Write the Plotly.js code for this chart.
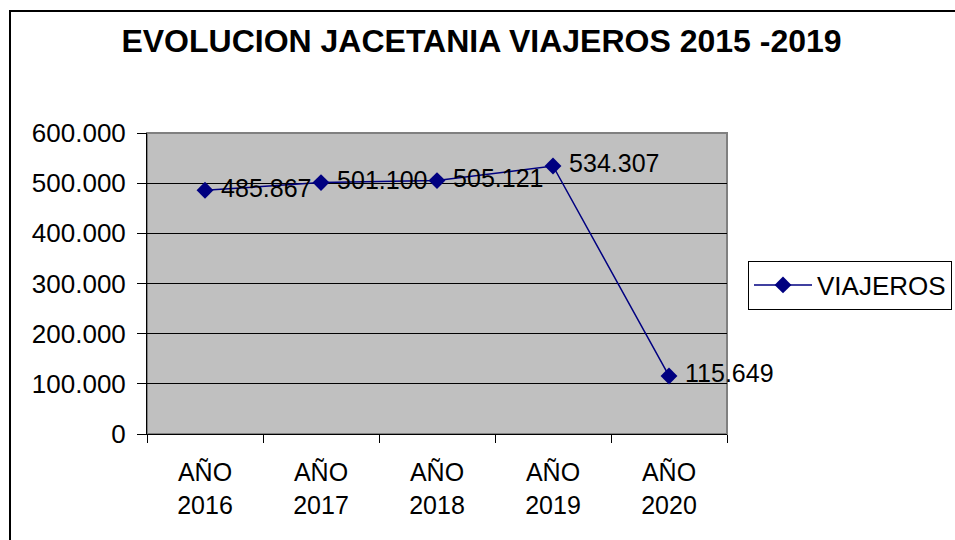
<!DOCTYPE html>
<html>
<head>
<meta charset="utf-8">
<script src="https://cdn.plot.ly/plotly-3.0.1.min.js"></script>
<style>html,body{margin:0;padding:0;background:#fff;}#chart{width:955px;height:540px;}</style>
</head>
<body>
<div id="chart"></div>
<script>
const categories = ["AÑO<br>2016", "AÑO<br>2017", "AÑO<br>2018", "AÑO<br>2019", "AÑO<br>2020"];
const viajeros = [485867, 501100, 505121, 534307, 115649];
const seriesName = "VIAJEROS";
const yTicks = [0, 100000, 200000, 300000, 400000, 500000, 600000];

const L = 147, R = 727, T = 133, B = 434, W = 955, H = 540;
const pw = R - L, ph = B - T;
const px = v => (v - L) / pw;
const py = v => (B - v) / ph;

const trace = {
  x: categories,
  y: viajeros,
  name: seriesName,
  type: 'scatter',
  mode: 'lines+markers+text',
  line: {color: '#000080', width: 1.5},
  marker: {symbol: 'diamond', size: 13, color: '#000080'},
  texttemplate: '\u00a0%{y:,}',
  textposition: 'middle right',
  textfont: {family: 'Liberation Sans, Arial', size: 25, color: '#000'},
  cliponaxis: false
};

const layout = {
  width: W, height: H,
  margin: {l: L, r: W - R, t: T, b: H - B, pad: 0, autoexpand: false},
  paper_bgcolor: '#fff',
  plot_bgcolor: '#c0c0c0',
  separators: ',.',
  font: {family: 'Liberation Sans, Arial', size: 25, color: '#000'},
  title: {
    text: '<b>EVOLUCION JACETANIA VIAJEROS 2015 -2019</b>',
    font: {family: 'Liberation Sans, Arial', size: 32, color: '#000'},
    x: 481.5 / W, xanchor: 'center', xref: 'container',
    y: 1 - 41 / H, yanchor: 'middle', yref: 'container'
  },
  xaxis: {
    type: 'category',
    range: [-0.5, 4.5],
    showgrid: false,
    zeroline: false,
    showline: true, linecolor: '#000', linewidth: 1,
    ticks: 'outside', tickson: 'boundaries', ticklen: 8, tickcolor: '#000',
    ticklabelstandoff: 16,
    tickfont: {size: 25},
    automargin: false,
    fixedrange: true
  },
  yaxis: {
    range: [0, 600000],
    tickvals: yTicks,
    tickformat: ',',
    showgrid: true, gridcolor: '#000', gridwidth: 1,
    zeroline: false,
    showline: true, linecolor: '#000', linewidth: 1,
    ticks: 'outside', ticklen: 9, tickcolor: '#000',
    ticklabelstandoff: 6,
    tickfont: {size: 26},
    automargin: false,
    fixedrange: true
  },
  showlegend: true,
  legend: {
    xref: 'container', yref: 'container',
    x: 748 / W, xanchor: 'left',
    y: 1 - 285 / H, yanchor: 'middle',
    bgcolor: '#fff', bordercolor: '#000', borderwidth: 1,
    font: {size: 26},
    itemwidth: 58
  },
  shapes: [
    {type: 'rect', xref: 'paper', yref: 'paper', x0: 0, x1: 1, y0: 0, y1: 1,
     line: {color: '#808080', width: 2}, layer: 'below'},
    {type: 'rect', xref: 'paper', yref: 'paper',
     x0: px(10), x1: px(1000), y0: py(11), y1: py(600),
     line: {color: '#000', width: 2}, fillcolor: 'rgba(0,0,0,0)'}
  ]
};

Plotly.newPlot('chart', [trace], layout, {displayModeBar: false, staticPlot: true});
</script>
</body>
</html>
